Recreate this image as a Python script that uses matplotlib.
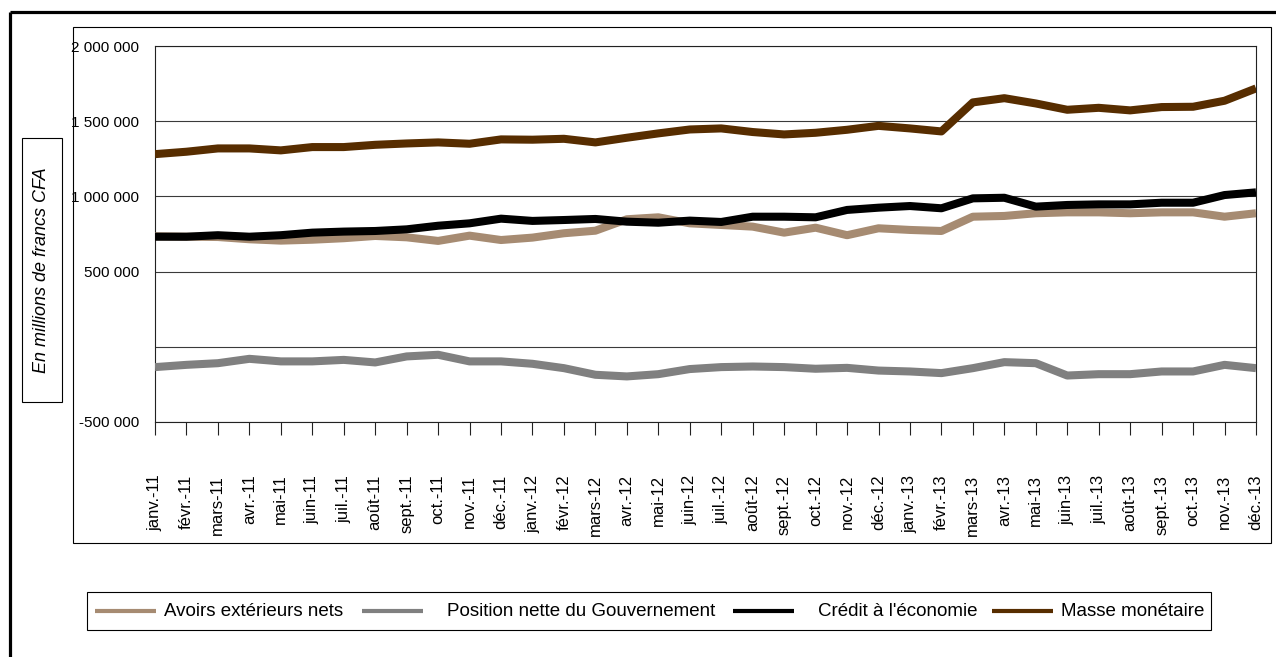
import matplotlib
matplotlib.use("Agg")
import matplotlib.pyplot as plt
from matplotlib.lines import Line2D
from matplotlib.patches import Rectangle

# Monthly categories, January 2011 to December 2013
months = [
    "janv.-11", "févr.-11", "mars-11", "avr.-11", "mai-11", "juin-11",
    "juil.-11", "août-11", "sept.-11", "oct.-11", "nov.-11", "déc.-11",
    "janv.-12", "févr.-12", "mars-12", "avr.-12", "mai-12", "juin-12",
    "juil.-12", "août-12", "sept.-12", "oct.-12", "nov.-12", "déc.-12",
    "janv.-13", "févr.-13", "mars-13", "avr.-13", "mai-13", "juin-13",
    "juil.-13", "août-13", "sept.-13", "oct.-13", "nov.-13", "déc.-13",
]

# Values in millions of CFA francs
avoirs_ext = [735000, 732000, 730000, 715000, 706000, 712000, 722000, 737000, 728000,
              704000, 739000, 710000, 726000, 755000, 772000, 848000, 861000, 821000,
              810000, 799000, 759000, 792000, 742000, 788000, 777000, 770000, 865000,
              870000, 888000, 894000, 894000, 888000, 894000, 894000, 865000, 888000]
position_gouv = [-135000, -120000, -109000, -80000, -97000, -97000, -87000, -104000, -64000,
                 -53000, -97000, -97000, -113000, -142000, -186000, -197000, -182000, -148000,
                 -135000, -131000, -135000, -146000, -140000, -158000, -164000, -175000, -142000,
                 -102000, -109000, -191000, -182000, -182000, -164000, -164000, -120000, -142000]
credit_eco = [732000, 732000, 742000, 732000, 742000, 759000, 766000, 770000, 781000,
              805000, 821000, 852000, 837000, 843000, 850000, 832000, 825000, 839000,
              830000, 865000, 865000, 861000, 910000, 925000, 936000, 921000, 987000,
              991000, 932000, 943000, 947000, 947000, 958000, 958000, 1009000, 1027000]
masse_mon = [1281000, 1297000, 1319000, 1319000, 1306000, 1328000, 1328000, 1343000, 1352000,
             1359000, 1350000, 1379000, 1377000, 1383000, 1359000, 1390000, 1419000, 1445000,
             1452000, 1428000, 1412000, 1423000, 1443000, 1469000, 1452000, 1432000, 1625000,
             1653000, 1618000, 1576000, 1589000, 1572000, 1594000, 1596000, 1636000, 1718000]

series_names = ["Avoirs extérieurs nets", "Position nette du Gouvernement",
                "Crédit à l'économie", "Masse monétaire"]
series_colors = ["#A68B72", "#808080", "#000000", "#572D00"]

y_ticks = [-500000, 0, 500000, 1000000, 1500000, 2000000]
y_tick_labels = ["-500 000", "", "500 000", "1 000 000", "1 500 000", "2 000 000"]

FONT = ["Liberation Sans", "DejaVu Sans"]

W, H = 1276, 657
fig = plt.figure(figsize=(W / 100, H / 100), dpi=100)
fig.patch.set_facecolor("white")


def fx(px):
    return px / W


def fy(py):
    return 1 - py / H


ax = fig.add_axes([fx(155), fy(422), fx(1256) - fx(155), fy(46) - fy(422)])

x = list(range(len(months)))
for values, name, color in zip([avoirs_ext, position_gouv, credit_eco, masse_mon],
                               series_names, series_colors):
    ax.plot(x, values, color=color, lw=5.8, solid_joinstyle="round",
            solid_capstyle="butt", label=name, zorder=3)

ax.set_xlim(0, len(months) - 1)
ax.set_ylim(-500000, 2000000)

ax.set_yticks(y_ticks)
ax.set_yticklabels(y_tick_labels, family=FONT, fontsize=11)
ax.tick_params(axis="y", length=0, pad=11.5)

ax.set_xticks(x)
ax.set_xticklabels(months, rotation=90, family=FONT, fontsize=12)
ax.tick_params(axis="x", direction="out", length=9.4, width=0.8,
               color="#222222", pad=28.5)

ax.yaxis.grid(True, color="#3a3a3a", lw=0.8)
ax.set_axisbelow(True)
for side in ["top", "bottom", "left", "right"]:
    ax.spines[side].set_color("#222222")
    ax.spines[side].set_linewidth(0.8)

# Outer page frame (thick) and chart-area frame (thin)
fig.add_artist(Line2D([fx(10), 1.0], [fy(12), fy(12)], lw=2.3, color="black",
                      transform=fig.transFigure, solid_capstyle="butt"))
fig.add_artist(Line2D([fx(10), fx(10)], [fy(12), 0.0], lw=2.3, color="black",
                      transform=fig.transFigure, solid_capstyle="butt"))
fig.add_artist(Rectangle((fx(73), fy(543)), fx(1271) - fx(73), fy(27) - fy(543),
                         fill=False, lw=0.8, ec="black", transform=fig.transFigure))

# Boxed axis title
fig.add_artist(Rectangle((fx(22), fy(402)), fx(62) - fx(22), fy(138) - fy(402),
                         fill=False, lw=0.8, ec="black", transform=fig.transFigure))
fig.text(fx(42), fy(270), "En millions de francs CFA", rotation=90, ha="center",
         va="center", style="italic", family=FONT, fontsize=13)

# Legend laid out in a single boxed row
fig.add_artist(Rectangle((fx(87), fy(630)), fx(1211) - fx(87), fy(592) - fy(630),
                         fill=False, lw=0.8, ec="black", transform=fig.transFigure))
handle_x = [(95, 156), (362, 423), (733, 794), (992, 1053)]
text_x = [164, 447, 818, 1061]
for (x0, x1), tx, name, color in zip(handle_x, text_x, series_names, series_colors):
    fig.add_artist(Line2D([fx(x0), fx(x1)], [fy(611), fy(611)], lw=3.0, color=color,
                          transform=fig.transFigure, solid_capstyle="butt"))
    fig.text(fx(tx), fy(611), name, ha="left", va="center", family=FONT,
             fontsize=13.5)

fig.savefig("out.png", dpi=100, facecolor="white")
